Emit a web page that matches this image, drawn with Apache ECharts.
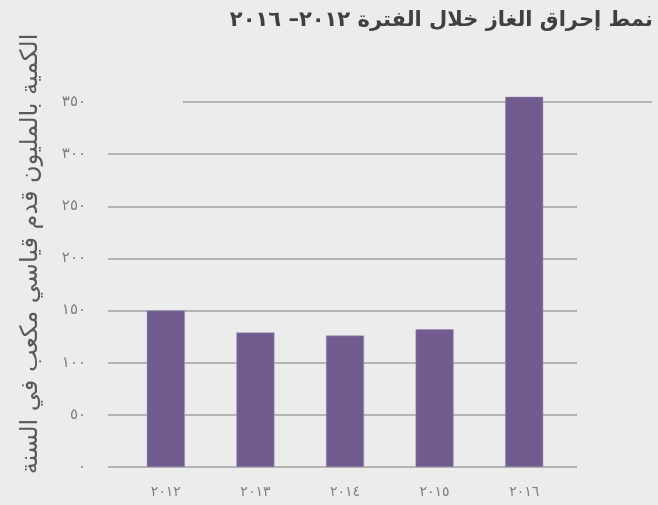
<!DOCTYPE html>
<html dir="rtl" lang="ar">
<head>
<meta charset="utf-8">
<script src="https://cdn.jsdelivr.net/npm/echarts@6/dist/echarts.min.js"></script>
<style>
  html, body { margin: 0; padding: 0; background: #ececec; }
  #chart { width: 658px; height: 505px; }
</style>
</head>
<body>
<div id="chart"></div>
<script>
var years = ['٢٠١٢', '٢٠١٣', '٢٠١٤', '٢٠١٥', '٢٠١٦'];
var flaring = [150, 129, 126, 132, 355];
var arabicDigits = ['٠', '١', '٢', '٣', '٤', '٥', '٦', '٧', '٨', '٩'];
var titleText = 'نمط إحراق الغاز خلال الفترة ٢٠١٢– ٢٠١٦';
var yName = 'الكمية بالمليون قدم قياسي مكعب في السنة';

function toArabic(n) {
    return String(n).split('').map(function (d) { return arabicDigits[+d]; }).join('');
}

var font = 'DejaVu Sans';
var gridTop = 102, gridBottom = 38;

var myChart = echarts.init(document.getElementById('chart'));
var option = {
    backgroundColor: '#ececec',
    animation: false,
    title: {
        text: titleText,
        right: 0,
        top: 5,
        textStyle: { fontFamily: font, fontSize: 21, fontWeight: 'bold', color: '#404040' }
    },
    graphic: [{
        type: 'text',
        x: 31,
        y: 254,
        rotation: Math.PI / 2,
        style: {
            text: yName,
            align: 'center',
            verticalAlign: 'middle',
            font: '24px "DejaVu Sans"',
            fill: '#595959'
        }
    }],
    grid: [
        // gridlines + y labels
        { left: 108, right: 81, top: gridTop, bottom: gridBottom },
        // bars
        { left: 121, right: 89, top: gridTop, bottom: gridBottom },
        // the offset top line
        { left: 183, right: 6, top: gridTop, bottom: gridBottom }
    ],
    xAxis: [
        { gridIndex: 0, type: 'value', show: false },
        {
            gridIndex: 1,
            type: 'category',
            data: years,
            axisLine: { show: false },
            axisTick: { show: false },
            axisLabel: { margin: 18, fontFamily: font, fontSize: 14, color: '#7f7f7f' }
        },
        { gridIndex: 2, type: 'value', show: false }
    ],
    yAxis: [
        {
            gridIndex: 0,
            type: 'value',
            min: 0,
            max: 350,
            interval: 50,
            axisLine: { show: false },
            axisTick: { show: false },
            axisLabel: {
                margin: 22,
                fontFamily: font,
                fontSize: 15,
                color: '#7f7f7f',
                formatter: function (v) { return toArabic(v); }
            },
            splitLine: { showMaxLine: false, lineStyle: { color: '#b4b4b4', width: 2 } }
        },
        {
            gridIndex: 1,
            type: 'value',
            min: 0,
            max: 350,
            interval: 50,
            axisLine: { show: false },
            axisTick: { show: false },
            axisLabel: { show: false },
            splitLine: { show: false }
        },
        {
            gridIndex: 2,
            type: 'value',
            min: 0,
            max: 350,
            interval: 350,
            axisLine: { show: false },
            axisTick: { show: false },
            axisLabel: { show: false },
            splitLine: { showMinLine: false, lineStyle: { color: '#b4b4b4', width: 2 } }
        }
    ],
    series: [{
        name: 'flaring',
        type: 'bar',
        xAxisIndex: 1,
        yAxisIndex: 1,
        barWidth: 38,
        clip: false,
        z: 5,
        itemStyle: { color: '#715b8f', borderColor: '#9c8cb3', borderWidth: 0.5 },
        data: flaring
    }]
};
myChart.setOption(option, true);
</script>
</body>
</html>
